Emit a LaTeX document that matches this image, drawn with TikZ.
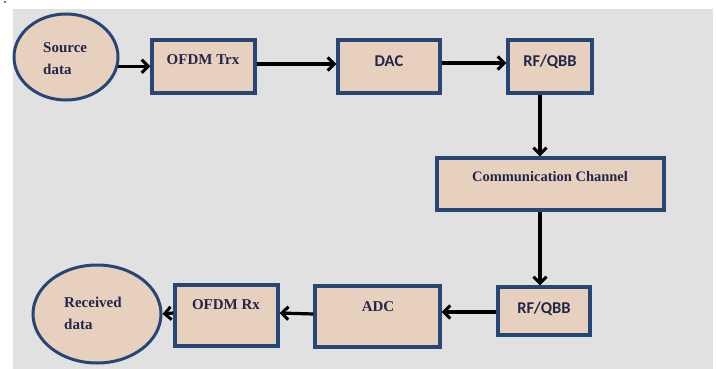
\documentclass[tikz,border=0pt]{standalone}
\usepackage{fontspec}
\setmainfont{Liberation Serif}
\newfontfamily\calib{Carlito}
\usetikzlibrary{arrows.meta,shapes.geometric}
\definecolor{bgc}{RGB}{225,225,225}
\definecolor{fillc}{RGB}{232,208,190}
\definecolor{edgec}{RGB}{38,70,118}
\definecolor{txtc}{RGB}{34,38,74}
\tikzset{
  blk/.style={draw=edgec, fill=fillc, line width=3.4pt, inner sep=0pt},
  oval/.style={draw=edgec, fill=fillc, line width=3pt, ellipse, inner sep=0pt},
  sertext/.style={text=txtc, font=\fontsize{15}{17}\selectfont\bfseries, inner sep=0pt},
  santext/.style={text=txtc, font=\calib\fontsize{16.5}{18}\selectfont\bfseries, inner sep=0pt},
  arr/.style={line width=3.2pt, draw=black, -{Straight Barb[length=6.5pt,width=13pt,line width=3pt]}},
}
\begin{document}
\begin{tikzpicture}[x=1pt,y=-1pt]
\useasboundingbox (0,0) rectangle (716,369);
\fill[bgc] (13,9) rectangle (713,369);
\fill[black!70] (5,2) circle (1.2);
% nodes
\node[oval, minimum width=104, minimum height=86] (src) at (66,57) {};
\node[sertext, align=left, anchor=west] (srct) at (43,59) {Source\\[5pt]data};
\node[blk, minimum width=103, minimum height=53] (trx) at (203.5,66.5) {};
\node[sertext] (trxt) at (203,60) {OFDM Trx};
\node[blk, minimum width=102, minimum height=53] (dac) at (389,66.5) {};
\node[santext] (dact) at (389,61) {DAC};
\node[blk, minimum width=84, minimum height=53] (rfa) at (550,66.5) {};
\node[santext] (rfat) at (550,62) {RF/QBB};
\node[blk, minimum width=227, minimum height=52] (comm) at (550.5,184) {};
\node[sertext, font=\fontsize{14.5}{16}\selectfont\bfseries] (commt) at (550,177) {Communication Channel};
\node[blk, minimum width=92, minimum height=48] (rfb) at (544,311) {};
\node[santext] (rfbt) at (544,309) {RF/QBB};
\node[blk, minimum width=125, minimum height=61] (adc) at (377.5,316.5) {};
\node[sertext] (adct) at (378,307) {ADC};
\node[blk, minimum width=103, minimum height=61] (rx) at (226.5,315.5) {};
\node[sertext] (rxt) at (226,305) {OFDM Rx};
\node[oval, minimum width=128, minimum height=98] (rcv) at (97,314) {};
\node[sertext, align=left, anchor=west] (rcvt) at (64,313) {Received\\[5pt]data};
% connectors
\draw[arr] (src.-10) -- (src.-10 -| trx.west);
\draw[arr] ([yshift=2.5pt]trx.east) -- ([yshift=2.5pt]dac.west);
\draw[arr] ([yshift=3.5pt]dac.east) -- ([yshift=3.5pt]rfa.west);
\draw[arr] ([xshift=-10pt]rfa.south) -- ([xshift=-10.5pt]comm.north);
\draw[arr] ([xshift=-10.5pt]comm.south) -- ([xshift=-4pt]rfb.north);
\draw[arr] ([yshift=-1pt]rfb.west) -- ([yshift=4.5pt]adc.east);
\draw[arr] ([yshift=2.5pt]adc.west) -- ([yshift=2.5pt]rx.east);
\draw[arr] ([yshift=2.5pt]rx.west) -- (rcv.east);
\end{tikzpicture}
\end{document}
